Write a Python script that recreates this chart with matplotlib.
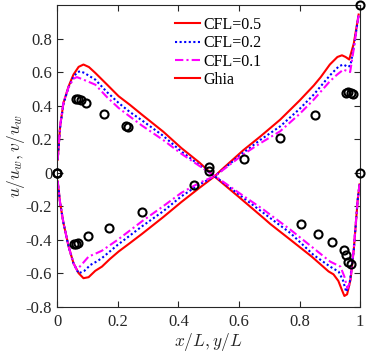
import numpy as np
import matplotlib.pyplot as plt

plt.rcParams['font.family'] = ['Liberation Serif', 'DejaVu Serif']
plt.rcParams['mathtext.fontset'] = 'cm'

# u along vertical centreline (x axis = y/L)
u05_x = [0.002, 0.01, 0.021, 0.038, 0.054, 0.071, 0.087, 0.104, 0.126, 0.148, 0.174, 0.203, 0.24, 0.28,
         0.35, 0.41, 0.47, 0.521, 0.538, 0.615, 0.67, 0.736, 0.80, 0.847, 0.87, 0.90, 0.925, 0.94,
         0.952, 0.964, 0.979, 0.995]
u05_y = [-0.052, -0.181, -0.30, -0.44, -0.539, -0.599, -0.629, -0.623, -0.585, -0.56, -0.515, -0.47,
         -0.42, -0.365, -0.265, -0.175, -0.09, -0.02, 0.01, 0.135, 0.215, 0.316, 0.43, 0.52, 0.57,
         0.645, 0.69, 0.70, 0.69, 0.675, 0.77, 0.943]

u02_x = [0.002, 0.01, 0.021, 0.038, 0.054, 0.071, 0.09, 0.11, 0.13, 0.148, 0.2, 0.24, 0.28, 0.35,
         0.41, 0.47, 0.521, 0.615, 0.67, 0.736, 0.80, 0.847, 0.90, 0.93, 0.945, 0.96, 0.968, 0.98, 0.995]
u02_y = [-0.05, -0.18, -0.30, -0.44, -0.54, -0.60, -0.585, -0.55, -0.53, -0.509, -0.43, -0.375,
         -0.32, -0.23, -0.141, -0.07, -0.02, 0.12, 0.195, 0.276, 0.38, 0.466, 0.58, 0.635, 0.645,
         0.63, 0.64, 0.76, 0.94]

u01_x = [0.002, 0.01, 0.021, 0.038, 0.054, 0.065, 0.08, 0.104, 0.13, 0.148, 0.2, 0.24, 0.28, 0.35,
         0.41, 0.47, 0.521, 0.615, 0.67, 0.736, 0.80, 0.847, 0.90, 0.924, 0.945, 0.958, 0.967, 0.98, 0.995]
u01_y = [-0.05, -0.18, -0.30, -0.44, -0.54, -0.579, -0.55, -0.50, -0.48, -0.465, -0.40, -0.345,
         -0.29, -0.20, -0.12, -0.06, -0.02, 0.11, 0.175, 0.247, 0.35, 0.436, 0.545, 0.585, 0.615,
         0.605, 0.60, 0.75, 0.94]

# v along horizontal centreline (x axis = x/L)
v05_x = [0.002, 0.01, 0.021, 0.038, 0.054, 0.071, 0.087, 0.105, 0.126, 0.165, 0.203, 0.24, 0.28,
         0.35, 0.41, 0.47, 0.521, 0.6, 0.681, 0.703, 0.77, 0.84, 0.896, 0.912, 0.928, 0.94, 0.948,
         0.957, 0.968, 0.979, 0.992, 0.998]
v05_y = [0.078, 0.276, 0.416, 0.515, 0.585, 0.631, 0.645, 0.63, 0.595, 0.525, 0.456, 0.405, 0.346,
         0.245, 0.147, 0.06, -0.025, -0.145, -0.27, -0.305, -0.40, -0.50, -0.589, -0.606, -0.645,
         -0.70, -0.735, -0.725, -0.64, -0.46, -0.16, -0.07]

v02_x = [0.002, 0.01, 0.021, 0.038, 0.054, 0.066, 0.076, 0.09, 0.105, 0.126, 0.165, 0.203, 0.24,
         0.28, 0.35, 0.41, 0.47, 0.521, 0.6, 0.681, 0.703, 0.77, 0.846, 0.901, 0.915, 0.929, 0.943,
         0.954, 0.965, 0.979, 0.992, 0.998]
v02_y = [0.078, 0.27, 0.41, 0.51, 0.57, 0.598, 0.605, 0.595, 0.578, 0.555, 0.48, 0.416, 0.362,
         0.312, 0.22, 0.127, 0.045, -0.022, -0.13, -0.24, -0.27, -0.36, -0.49, -0.56, -0.575, -0.59,
         -0.64, -0.71, -0.665, -0.46, -0.16, -0.07]

v01_x = [0.002, 0.01, 0.021, 0.038, 0.054, 0.065, 0.08, 0.1, 0.126, 0.165, 0.203, 0.24, 0.28, 0.35,
         0.41, 0.47, 0.521, 0.6, 0.681, 0.703, 0.77, 0.846, 0.901, 0.935, 0.948, 0.958, 0.968, 0.979,
         0.992, 0.998]
v01_y = [0.078, 0.28, 0.42, 0.51, 0.56, 0.57, 0.56, 0.545, 0.525, 0.45, 0.386, 0.335, 0.281, 0.195,
         0.113, 0.04, -0.02, -0.12, -0.22, -0.25, -0.34, -0.45, -0.53, -0.56, -0.62, -0.69, -0.645,
         -0.45, -0.16, -0.07]

# Ghia et al. reference data
ghia_uy = [1.0, 0.9766, 0.9688, 0.9609, 0.9531, 0.8516, 0.7344, 0.6172, 0.5, 0.4531, 0.2813,
           0.1719, 0.1016, 0.0703, 0.0625, 0.0547, 0.0]
ghia_u = [1.0, 0.47221, 0.47783, 0.48070, 0.47804, 0.34635, 0.20673, 0.08344, 0.03111, -0.07540,
          -0.23186, -0.32709, -0.38000, -0.41657, -0.42537, -0.42735, 0.0]
ghia_vx = [1.0, 0.9688, 0.9609, 0.9531, 0.9453, 0.9063, 0.8594, 0.8047, 0.5, 0.2344, 0.2266,
           0.1563, 0.0938, 0.0781, 0.0703, 0.0625, 0.0]
ghia_v = [0.0, -0.54302, -0.52987, -0.49099, -0.45863, -0.41496, -0.36737, -0.30719, 0.00831,
          0.27224, 0.28003, 0.35070, 0.41487, 0.43124, 0.43733, 0.43983, 0.0]

labels = ['CFL=0.5', 'CFL=0.2', 'CFL=0.1', 'Ghia']

fig = plt.figure(figsize=(3.66, 3.56), dpi=100)
ax = fig.add_axes([0.156, 0.138, 0.828, 0.848])

lw = 1.5
dot = (0, (1, 1.2))
dashdot = (0, (4, 1.5, 1, 1.5))
h1, = ax.plot(u05_x, u05_y, '-', color='red', lw=lw)
h2, = ax.plot(u02_x, u02_y, ls=dot, color='blue', lw=lw)
h3, = ax.plot(u01_x, u01_y, ls=dashdot, color='magenta', lw=lw)
h4, = ax.plot(v05_x, v05_y, '-', color='red', lw=lw)
ax.plot(v02_x, v02_y, ls=dot, color='blue', lw=lw)
ax.plot(v01_x, v01_y, ls=dashdot, color='magenta', lw=lw)

ax.plot(ghia_uy, ghia_u, 'o', mfc='none', mec='black', ms=5.8, mew=1.5, clip_on=False, zorder=5)
ax.plot(ghia_vx, ghia_v, 'o', mfc='none', mec='black', ms=5.8, mew=1.5, clip_on=False, zorder=5)

ax.set_xlim(0, 1)
ax.set_ylim(-0.8, 1.0)
ax.set_xticks([0, 0.2, 0.4, 0.6, 0.8, 1])
ax.set_xticklabels(['0', '0.2', '0.4', '0.6', '0.8', '1'])
ax.set_yticks([-0.8, -0.6, -0.4, -0.2, 0, 0.2, 0.4, 0.6, 0.8])
ax.set_yticklabels(['-0.8', '-0.6', '-0.4', '-0.2', '0', '0.2', '0.4', '0.6', '0.8'])

for s in ax.spines.values():
    s.set_color('#262626')
    s.set_linewidth(0.8)
ax.tick_params(direction='in', top=True, right=True, length=4, width=0.8,
               color='#262626', labelsize=12, labelcolor='#262626')
ax.tick_params(axis='x', pad=5)
ax.tick_params(axis='y', pad=3.5)

ax.set_xlabel(r'$x/L, y/L$', fontsize=12.5, color='#262626', labelpad=1)
ax.set_ylabel(r'$u/u_w, v/u_w$', fontsize=12.5, color='#262626', labelpad=-1)

ax.legend([h1, h2, h3, h4], labels, loc='upper left', bbox_to_anchor=(0.455, 0.975),
          bbox_transform=fig.transFigure, frameon=False, fontsize=11.5,
          handlelength=1.6, handletextpad=0.2, labelspacing=0.15, borderpad=0)

fig.savefig('out.png', dpi=100)
